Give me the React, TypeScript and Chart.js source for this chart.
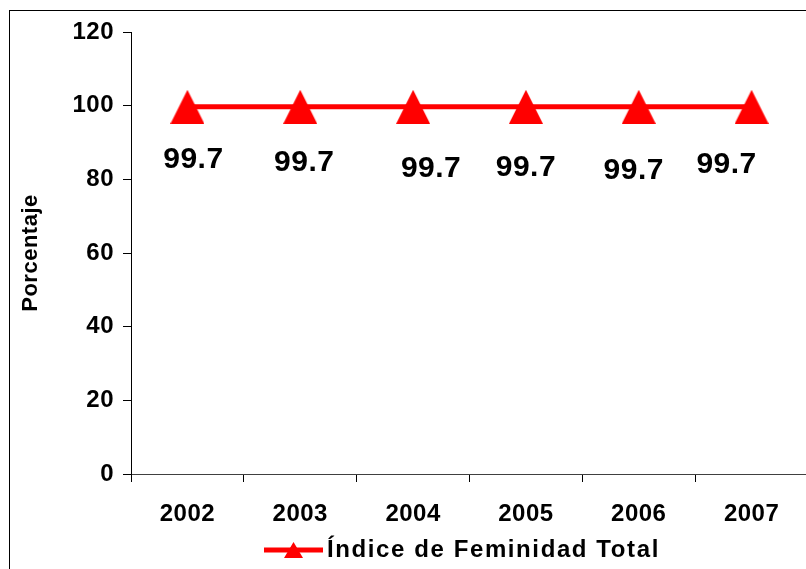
import React, { useEffect, useRef } from "react";
import { Chart, registerables } from "chart.js";

Chart.register(...registerables);

const categories = ["2002", "2003", "2004", "2005", "2006", "2007"];
const values = [99.7, 99.7, 99.7, 99.7, 99.7, 99.7];
const seriesLabel = "Índice de Feminidad Total";
const yTitle = "Porcentaje";
const yMin = 0;
const yMax = 120;
const yStep = 20;

// label placement offsets (style only)
const labelOffsets = [
  [6, 53],
  [4, 56],
  [18, 62],
  [0, 61],
  [-5, 64],
  [-25, 58],
];

const RED = "#ff0000";
const FONT = "'Liberation Sans', Arial, sans-serif";

function makeTriangle(w: number, h: number) {
  const c = document.createElement("canvas");
  c.width = w;
  c.height = h;
  const g = c.getContext("2d")!;
  g.fillStyle = RED;
  g.beginPath();
  g.moveTo(0, h);
  g.lineTo(w / 2, 0);
  g.lineTo(w, h);
  g.closePath();
  g.fill();
  return c;
}

export default function App() {
  const ref = useRef<HTMLCanvasElement | null>(null);
  useEffect(() => {
    const canvas = ref.current!;
    const tri = makeTriangle(34, 34);
    const spacingPlugin = {
      id: "spacing",
      beforeLayout(chart: any) {
        chart.ctx.letterSpacing = "0.5px";
      },
      beforeDraw(chart: any) {
        const ctx = chart.ctx;
        ctx.letterSpacing = "0.5px";
        ctx.save();
        ctx.fillStyle = "#fff";
        ctx.fillRect(0, 0, chart.width, chart.height);
        ctx.strokeStyle = "#000";
        ctx.lineWidth = 1;
        ctx.strokeRect(9.5, 10.5, chart.width + 50, chart.height + 50);
        ctx.restore();
      },
      afterDatasetsDraw(chart: any) {
        const ctx = chart.ctx;
        const meta = chart.getDatasetMeta(0);
        ctx.save();
        ctx.letterSpacing = "0.5px";
        ctx.font = `bold 30px ${FONT}`;
        ctx.fillStyle = "#000";
        ctx.textAlign = "center";
        ctx.textBaseline = "middle";
        meta.data.forEach((p: any, i: number) => {
          const [dx, dy] = labelOffsets[i];
          ctx.fillText(values[i].toFixed(1), p.x + dx, p.y + dy);
        });
        ctx.restore();
      },
      afterDraw(chart: any) {
        const ctx = chart.ctx;
        ctx.save();
        const ly = 550;
        ctx.strokeStyle = RED;
        ctx.lineWidth = 5;
        ctx.beginPath();
        ctx.moveTo(264, ly);
        ctx.lineTo(323, ly);
        ctx.stroke();
        ctx.fillStyle = RED;
        ctx.beginPath();
        ctx.moveTo(284, ly + 8);
        ctx.lineTo(293.5, ly - 8);
        ctx.lineTo(303, ly + 8);
        ctx.closePath();
        ctx.fill();
        ctx.letterSpacing = "1.6px";
        ctx.font = `bold 24px ${FONT}`;
        ctx.fillStyle = "#000";
        ctx.textAlign = "left";
        ctx.textBaseline = "middle";
        ctx.fillText(chart.data.datasets[0].label, 327, ly);
        ctx.restore();
      },
    };
    const chart = new Chart(canvas, {
      type: "line",
      data: {
        labels: categories,
        datasets: [
          {
            label: seriesLabel,
            data: values,
            borderColor: RED,
            backgroundColor: RED,
            borderWidth: 5,
            pointStyle: tri as any,
            pointRadius: 17,
            tension: 0,
          },
        ],
      },
      options: {
        animation: false,
        responsive: false,
        devicePixelRatio: 1,
        layout: { padding: { left: 0, top: 32, right: 14, bottom: 0 } },
        plugins: {
          legend: { display: false },
          tooltip: { enabled: false },
        },
        scales: {
          x: {
            type: "category",
            offset: true,
            grid: {
              offset: true,
              drawOnChartArea: false,
              drawTicks: true,
              tickLength: 8,
              color: "#000",
            },
            border: { display: true, color: "#404040", width: 1 },
            ticks: {
              color: "#000",
              font: { family: FONT, size: 24, weight: "bold" },
              padding: 18,
              maxRotation: 0,
              autoSkip: false,
            },
            afterFit(scale: any) {
              scale.height = 95;
            },
          },
          y: {
            min: yMin,
            max: yMax,
            grid: {
              drawOnChartArea: false,
              drawTicks: true,
              tickLength: 8,
              color: "#000",
            },
            border: { display: true, color: "#000", width: 1 },
            ticks: {
              stepSize: yStep,
              color: "#000",
              font: { family: FONT, size: 24, weight: "bold" },
              padding: 9,
            },
            title: {
              display: true,
              text: yTitle,
              color: "#000",
              font: { family: FONT, size: 22, weight: "bold" },
              padding: { top: 18, bottom: 0 },
            },
            afterFit(scale: any) {
              scale.width = 131;
            },
          },
        },
      },
      plugins: [spacingPlugin],
    });
    return () => chart.destroy();
  }, []);
  return (
    <div
      style={{
        position: "absolute",
        left: 0,
        top: 0,
        width: 806,
        height: 569,
        overflow: "hidden",
        background: "#fff",
      }}
    >
      <canvas ref={ref} width={830} height={569} style={{ display: "block", width: 830, height: 569 }} />
    </div>
  );
}
